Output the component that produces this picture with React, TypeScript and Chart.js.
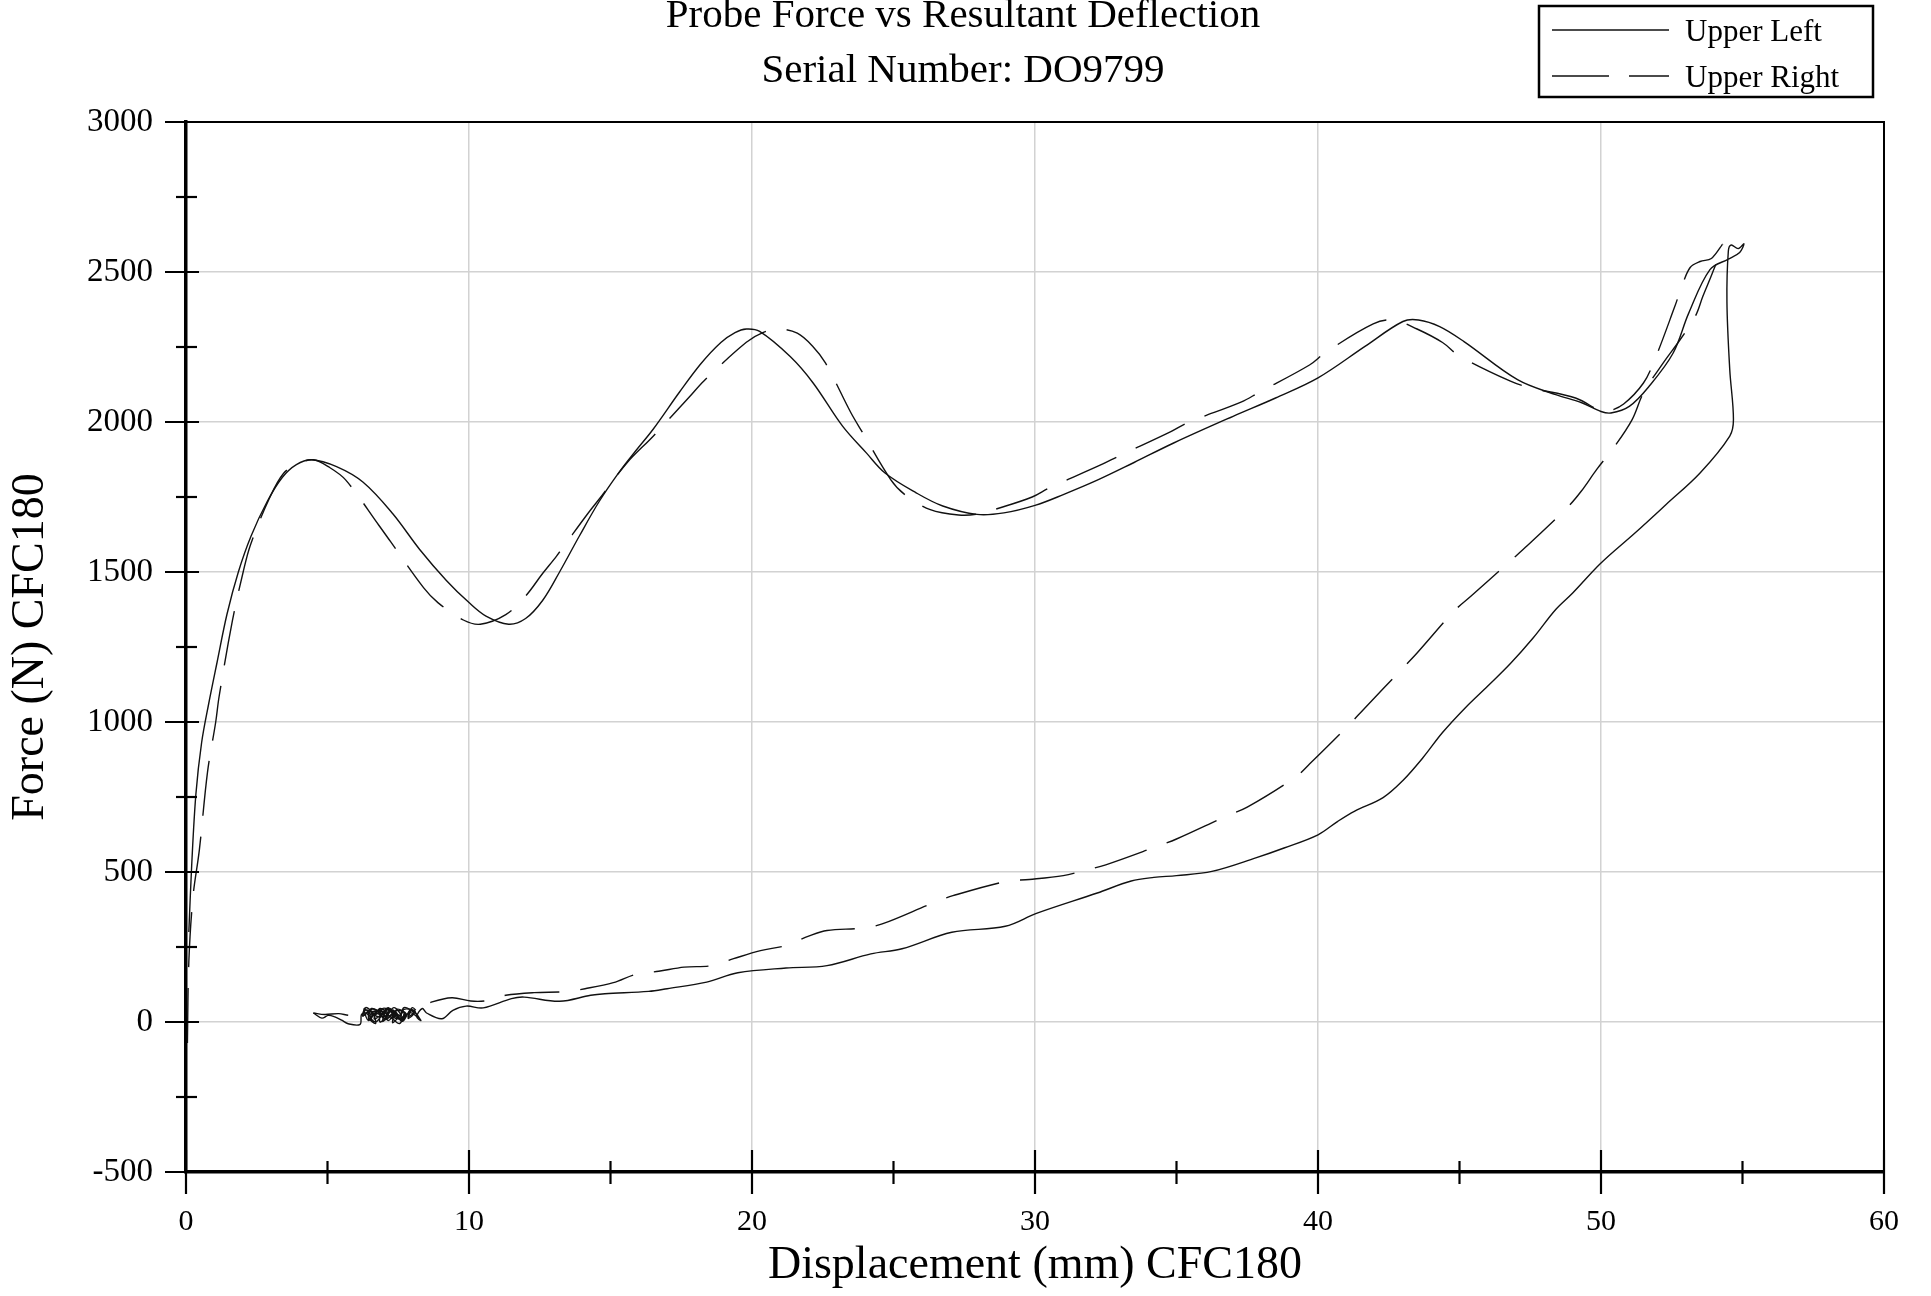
import React, { useEffect, useRef } from "react";
import { Chart, registerables } from "chart.js";

Chart.register(...registerables);

const FONT = "'Liberation Serif', 'Times New Roman', serif";

const titleLines = ["Probe Force vs Resultant Deflection", "Serial Number: DO9799"];
const xAxisTitle = "Displacement (mm) CFC180";
const yAxisTitle = "Force (N) CFC180";
const seriesNames = ["Upper Left", "Upper Right"];

const xMajorTicks = [0, 10, 20, 30, 40, 50, 60];
const xMinorTicks = [5, 15, 25, 35, 45, 55];
const yMajorTicks = [-500, 0, 500, 1000, 1500, 2000, 2500, 3000];
const yMinorTicks = [-250, 250, 750, 1250, 1750, 2250, 2750];

// Upper Left (solid): loading, unloading, then noise at rest
const upperLeftX = [
  0.1, 0.2, 0.35, 0.55, 0.8, 1.1, 1.45, 1.85, 2.3, 2.87, 3.4, 3.9, 4.44, 5.32, 6.26, 7.3, 8.25, 9.2, 10.0, 10.6, 11.4,
  12.0, 12.6, 13.2, 13.9, 14.6, 15.3, 15.9, 16.5, 17.44, 18.2, 18.9, 19.4, 19.8, 20.27, 21.35, 22.16, 23.2, 24.04, 24.7, 25.8, 26.74, 27.95,
  28.9, 30.0, 31.0, 32.2, 33.5, 34.9, 37.0, 38.5, 40.0, 41.66, 43.0, 43.55, 44.3, 45.16, 47.05, 48.4, 49.3, 50.0, 50.35, 51.0, 51.7,
  52.55, 53.1, 53.85, 54.5, 54.9, 55.05, 54.85, 54.6, 54.5, 54.45, 54.55, 54.68, 54.55, 53.5, 52.3, 51.2, 50.0, 49.0, 48.4, 47.6,
  46.8, 46.0, 45.2, 44.4, 43.7, 43.0, 42.3, 41.3, 40.7, 40.0, 38.8, 37.8, 36.25, 35.0, 34.2, 33.4, 32.2, 30.05, 28.95, 27.06, 25.3,
  24.2, 22.65, 21.2, 19.5, 18.4, 17.0, 16.35, 14.8, 14.3, 13.2, 11.95, 11.5, 10.5, 9.9, 9.43, 9.04, 8.5,
  8.35, 8.15, 8.3, 8.0, 7.85, 8.05, 7.7, 7.6, 7.8, 7.45, 7.3, 7.5, 7.2, 7.05, 7.3, 6.95, 6.85, 7.1, 6.8, 6.65,
  6.9, 6.55, 6.45, 6.7, 6.6, 6.35, 6.25, 6.5, 6.8, 7.15, 7.4, 7.7, 7.55, 7.25, 6.95, 6.6, 6.3,
  6.45, 6.75, 7.0, 7.3, 7.6, 7.9, 8.2, 7.95, 7.65, 7.35, 7.05, 6.75, 6.5, 6.7, 6.95, 7.2, 7.5, 7.75, 7.45, 7.15, 6.85, 6.55, 6.35, 6.2,
  6.15, 5.73, 5.5, 5.26, 5.03, 4.8, 4.5,
];
const upperLeftY = [
  300, 520, 760, 930, 1060, 1200, 1360, 1500, 1620, 1735, 1815, 1858, 1874, 1851, 1799, 1695, 1576, 1472, 1398, 1353, 1326,
  1345, 1405, 1500, 1620, 1735, 1832, 1905, 1975, 2100, 2195, 2265, 2298, 2310, 2302, 2218, 2130, 1986, 1897, 1830, 1764, 1720, 1692,
  1697, 1722, 1758, 1806, 1865, 1930, 2019, 2080, 2147, 2252, 2335, 2340, 2318, 2268, 2141, 2091, 2065, 2035, 2030, 2052, 2119,
  2230, 2363, 2508, 2543, 2565, 2594, 2578, 2590, 2570, 2400, 2174, 2008, 1953, 1830, 1725, 1630, 1530, 1430, 1375, 1280,
  1195, 1120, 1047, 965, 880, 805, 748, 703, 669, 624, 580, 547, 502, 488, 482, 470, 430, 362, 319, 299, 244,
  227, 188, 180, 164, 133, 111, 102, 94, 89, 69, 83, 78, 47, 53, 39, 11, 30,
  45, 18, 5, 40, 12, 30, 48, 5, 25, 42, -2, 20, 40, 8, 30, 45, 0, 22, 38, 10,
  28, 45, 15, -5, 30, 40, 20, 35, 18, 48, 12, 35, -5, 15, 35, 22, 45,
  5, 35, 12, 40, 8, 32, 15, 42, 2, 30, 10, 38, 20, 0, 25, 45, 10, 28, 38, 5, 42, 18, 30, 25,
  -8, -6, 6, 17, 22, 13, 30,
];

// Upper Right (dashed)
const upperRightX = [
  0.05, 0.1, 0.25, 0.47, 0.76, 1.05, 1.17, 1.64, 2.02, 2.28, 2.92, 3.45, 4.0, 4.5, 5.03, 5.64, 6.82, 7.23, 8.4, 8.9,
  9.8, 10.4, 11.3, 12.0, 12.6, 13.1, 14.2, 14.7, 15.6, 16.5, 17.8, 18.3, 19.8, 20.4, 20.94, 21.6, 22.15, 22.6, 23.5, 23.9,
  24.9, 25.4, 26.3, 27.3, 27.95, 28.8, 29.9, 30.5, 32.3, 33.0, 34.8, 35.4, 37.3, 37.9, 39.7, 40.27, 41.95, 42.67, 43.5, 44.4,
  45.0, 46.8, 47.5, 49.1, 50.0, 50.2, 50.8, 51.5, 51.9, 52.6, 52.85, 53.15, 53.5, 53.9, 54.3,
  53.95, 53.6, 53.34, 52.8, 52.2, 51.5, 51.1, 50.5, 49.85, 49.3, 48.85, 47.4, 46.87, 45.4, 44.8, 43.5, 43.0, 41.6, 41.1, 39.7,
  39.2, 37.5, 36.8, 35.0, 34.3, 32.5, 31.7, 31.0, 29.8, 29.0, 27.1, 26.4, 24.6, 23.9, 22.65, 22.0, 21.2, 20.3, 19.35, 18.6,
  17.6, 16.7, 15.9, 15.1, 14.1, 13.4, 12.3, 11.3, 10.6, 10.06, 9.4, 8.7, 8.4,
  8.25, 8.0, 7.85, 8.1, 7.7, 7.55, 7.75, 7.4, 7.25, 7.45, 7.1, 6.95, 7.15, 6.85, 6.7, 6.9, 6.55, 6.45, 6.6, 6.35,
  6.25, 6.5, 6.8, 7.2, 7.6, 7.35, 7.0, 6.65, 6.3, 5.8, 5.4, 4.9, 4.5,
];
const upperRightY = [
  -70, 200, 420, 572, 833, 1000, 1085, 1338, 1500, 1591, 1740, 1829, 1862, 1874, 1851, 1807, 1655, 1601, 1447, 1398,
  1340, 1326, 1358, 1420, 1495, 1554, 1695, 1755, 1866, 1952, 2085, 2137, 2266, 2299, 2310, 2296, 2252, 2196, 2030, 1966,
  1808, 1758, 1708, 1690, 1693, 1715, 1750, 1780, 1856, 1888, 1968, 1998, 2067, 2098, 2190, 2232, 2327, 2340, 2310, 2265,
  2220, 2136, 2114, 2080, 2035, 2033, 2060, 2130, 2208, 2383, 2450, 2515, 2535, 2545, 2591,
  2500, 2419, 2354, 2275, 2197, 2097, 2008, 1921, 1842, 1769, 1719, 1588, 1543, 1419, 1369, 1230, 1180, 1041, 991, 860,
  816, 716, 688, 610, 585, 524, 504, 488, 475, 469, 421, 397, 327, 313, 305, 286, 255, 238, 211, 188,
  183, 169, 159, 131, 111, 101, 98, 89, 71, 70, 81, 67, 50,
  28, 48, 18, 35, 42, 10, 28, 45, 12, 30, 40, 2, 25, 45, 15, 30, 42, 8, 28, 48,
  20, 38, 10, 35, 20, 48, 18, 35, 30, 22, 28, 25, 30,
];

const toPoints = (xs: number[], ys: number[]) => xs.map((x, i) => ({ x, y: ys[i] }));

const framePlugin = {
  id: "frameAndDecor",
  afterDraw(chart: any) {
    const { ctx, chartArea: a, scales } = chart;
    const xs = scales.x;
    const ys = scales.y;
    ctx.save();
    ctx.strokeStyle = "#000";
    ctx.fillStyle = "#000";

    // top & right frame
    ctx.lineWidth = 2;
    ctx.beginPath();
    ctx.moveTo(a.left, a.top);
    ctx.lineTo(a.right, a.top);
    ctx.lineTo(a.right, a.bottom);
    ctx.stroke();

    // y ticks
    ctx.lineWidth = 2.2;
    yMajorTicks.forEach((v) => {
      const py = ys.getPixelForValue(v);
      ctx.beginPath();
      ctx.moveTo(a.left - 21, py);
      ctx.lineTo(a.left + 13, py);
      ctx.stroke();
    });
    yMinorTicks.forEach((v) => {
      const py = ys.getPixelForValue(v);
      ctx.beginPath();
      ctx.moveTo(a.left - 10, py);
      ctx.lineTo(a.left + 11, py);
      ctx.stroke();
    });
    // x ticks
    xMajorTicks.forEach((v) => {
      const px = xs.getPixelForValue(v);
      ctx.beginPath();
      ctx.moveTo(px, a.bottom - 22);
      ctx.lineTo(px, a.bottom + 22);
      ctx.stroke();
    });
    xMinorTicks.forEach((v) => {
      const px = xs.getPixelForValue(v);
      ctx.beginPath();
      ctx.moveTo(px, a.bottom - 11);
      ctx.lineTo(px, a.bottom + 12);
      ctx.stroke();
    });

    // axis titles
    ctx.font = `46px ${FONT}`;
    ctx.textAlign = "center";
    ctx.textBaseline = "middle";
    ctx.fillText(xAxisTitle, (a.left + a.right) / 2, 1266);
    ctx.save();
    ctx.translate(31, (a.top + a.bottom) / 2);
    ctx.rotate(-Math.PI / 2);
    ctx.fillText(yAxisTitle, 0, 0);
    ctx.restore();

    // chart title
    ctx.font = `41px ${FONT}`;
    ctx.textBaseline = "alphabetic";
    ctx.fillText(titleLines[0], 963, 27);
    ctx.fillText(titleLines[1], 963, 82);

    // legend
    ctx.lineWidth = 2.5;
    ctx.strokeRect(1539, 6, 334, 91);
    ctx.lineWidth = 1.3;
    ctx.strokeStyle = "#111";
    ctx.beginPath();
    ctx.moveTo(1552, 30);
    ctx.lineTo(1669, 30);
    ctx.stroke();
    ctx.setLineDash([57, 20]);
    ctx.beginPath();
    ctx.moveTo(1552, 76);
    ctx.lineTo(1669, 76);
    ctx.stroke();
    ctx.setLineDash([]);
    ctx.font = `31px ${FONT}`;
    ctx.textAlign = "left";
    ctx.fillText(seriesNames[0], 1685, 41);
    ctx.fillText(seriesNames[1], 1685, 87);
    ctx.restore();
  },
};

export default function App() {
  const ref = useRef<HTMLCanvasElement>(null);
  useEffect(() => {
    document.body.style.margin = "0";
    document.body.style.overflow = "hidden";
    const canvas = ref.current;
    if (!canvas) return;
    const chart = new Chart(canvas, {
      type: "scatter",
      data: {
        datasets: [
          {
            label: seriesNames[0],
            data: toPoints(upperLeftX, upperLeftY),
            showLine: true,
            borderColor: "#111",
            borderWidth: 1.4,
            pointRadius: 0,
            tension: 0.35,
            fill: false,
          },
          {
            label: seriesNames[1],
            data: toPoints(upperRightX, upperRightY),
            showLine: true,
            borderColor: "#111",
            borderWidth: 1.4,
            borderDash: [55, 21],
            pointRadius: 0,
            tension: 0.35,
            fill: false,
          },
        ],
      },
      options: {
        responsive: false,
        animation: false,
        events: [],
        layout: { padding: { top: 122, right: 43, left: 0, bottom: 0 } },
        plugins: {
          legend: { display: false },
          title: { display: false },
          tooltip: { enabled: false },
        },
        scales: {
          x: {
            type: "linear",
            min: 0,
            max: 60,
            ticks: {
              stepSize: 10,
              color: "#000",
              padding: 32,
              font: { family: FONT, size: 30 },
              callback: (v: any) => String(v),
            },
            grid: { color: "#d2d2d2", lineWidth: 1.5, drawTicks: false },
            border: { color: "#000", width: 3.5 },
            afterFit: (s: any) => {
              s.height = 124;
            },
          },
          y: {
            type: "linear",
            min: -500,
            max: 3000,
            ticks: {
              stepSize: 500,
              color: "#000",
              padding: 33,
              font: { family: FONT, size: 33 },
              callback: (v: any) => String(v),
            },
            grid: { color: "#d2d2d2", lineWidth: 1.5, drawTicks: false },
            border: { color: "#000", width: 3.5 },
            afterFit: (s: any) => {
              s.width = 186;
            },
          },
        },
      },
      plugins: [framePlugin],
    });
    return () => chart.destroy();
  }, []);
  return <canvas ref={ref} width={1931} height={1296} style={{ display: "block" }} />;
}
